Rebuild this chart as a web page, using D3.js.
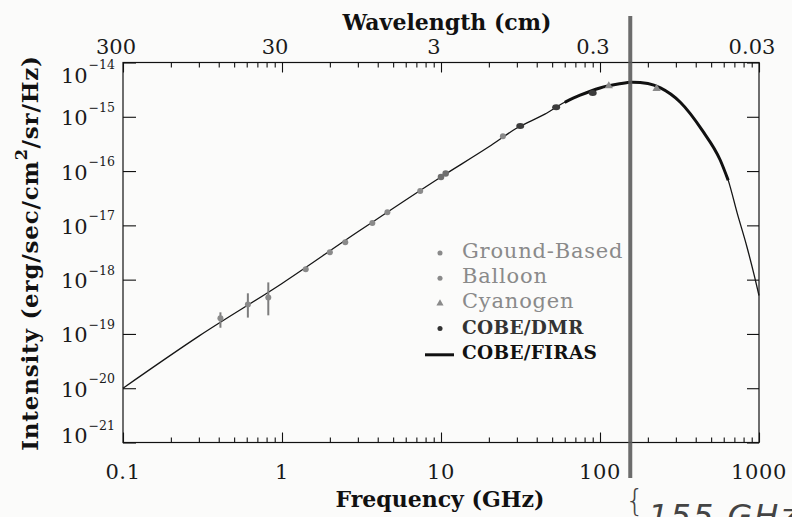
<!DOCTYPE html>
<html>
<head>
<meta charset="utf-8">
<script src="https://cdn.jsdelivr.net/npm/d3@7"></script>
<style>
  html, body { margin: 0; padding: 0; background: #fbfbfa; }
  svg { display: block; font-family: "DejaVu Serif", serif; }
</style>
</head>
<body>
<div id="chart"></div>
<script>
// values: frequency in GHz, intensity in erg/sec/cm^2/sr/Hz
var curveFreq = [0.1, 0.3, 1, 3, 10, 20, 30, 45, 60, 75, 100, 130, 160, 200, 240, 320, 440, 570, 640, 730, 840, 940, 1000];
var curveInt = [1.0e-20, 9.1e-20, 8.5e-19, 7.6e-18, 7.8e-17, 2.8e-16, 6.2e-16, 1.12e-15, 1.85e-15, 2.5e-15, 3.4e-15, 4.0e-15, 4.35e-15, 4.1e-15, 3.4e-15, 1.85e-15, 5.6e-16, 1.6e-16, 6.8e-17, 1.66e-17, 4.0e-18, 1.1e-18, 5.1e-19];
var firasRange = [60, 640];

var groundFreq = [0.41, 0.61, 0.82, 1.41, 2.0, 2.5, 3.7, 4.6, 7.4, 24.5];
var groundInt = [1.95e-19, 3.5e-19, 4.7e-19, 1.55e-18, 3.2e-18, 4.9e-18, 1.1e-17, 1.75e-17, 4.3e-17, 4.4e-16];
var groundLo = [1.3e-19, 2.0e-19, 2.2e-19, null, null, null, null, null, null, null];
var groundHi = [2.5e-19, 5.6e-19, 8.9e-19, null, null, null, null, null, null, null];

var balloonFreq = [10.0, 10.7];
var balloonInt = [7.8e-17, 9.0e-17];

var cyanFreq = [113.6, 227];
var cyanInt = [3.7e-15, 3.3e-15];

var dmrFreq = [31.5, 53, 90];
var dmrInt = [6.8e-16, 1.5e-15, 2.75e-15];

var freqTicks = [0.1, 1, 10, 100, 1000];
var freqLabels = ['0.1', '1', '10', '100', '1000'];
var waveLabels = ['300', '30', '3', '0.3', '0.03'];
var intTicks = [1e-21, 1e-20, 1e-19, 1e-18, 1e-17, 1e-16, 1e-15, 1e-14];
var intExp = ['\u221221', '\u221220', '\u221219', '\u221218', '\u221217', '\u221216', '\u221215', '\u221214'];
var legendNames = ['Ground-Based', 'Balloon', 'Cyanogen', 'COBE/DMR', 'COBE/FIRAS'];
var noteFreq = 155;
var noteText = '155 GHz';

var W = 792, H = 517;
var plotL = 123, plotR = 759, plotT = 62.5, plotB = 442.5;

var svg = d3.select('#chart').append('svg')
    .attr('width', W)
    .attr('height', H);

var x = d3.scaleLog().domain([0.1, 1000]).range([plotL, plotR]);
var y = d3.scaleLog().domain([1e-21, 1e-14]).range([plotB, plotT]);

var minor = x.ticks().filter(function(t) { return freqTicks.indexOf(t) < 0; });

// ticks, all pointing into the frame
function tickAxis(axis, vals, size, tx, ty) {
    var g = svg.append('g')
        .attr('transform', 'translate(' + tx + ',' + ty + ')')
        .call(axis.tickValues(vals).tickSize(size).tickSizeOuter(0).tickFormat(''));
    g.select('.domain').remove();
    g.selectAll('line').attr('stroke', '#111').attr('stroke-width', 1.1);
}
tickAxis(d3.axisBottom(x), freqTicks, -10, 0, plotB);
tickAxis(d3.axisBottom(x), minor, -5, 0, plotB);
tickAxis(d3.axisTop(x), freqTicks, -10, 0, plotT);
tickAxis(d3.axisTop(x), minor, -5, 0, plotT);
tickAxis(d3.axisLeft(y), intTicks, -13, plotL, 0);
tickAxis(d3.axisRight(y), intTicks, -12, plotR, 0);

svg.append('rect')
    .attr('x', plotL).attr('y', plotT)
    .attr('width', plotR - plotL).attr('height', plotB - plotT)
    .attr('fill', 'none').attr('stroke', '#111').attr('stroke-width', 1.2);

// tick labels
svg.selectAll('text.flab').data(freqTicks).enter().append('text')
    .attr('class', 'flab')
    .attr('x', function(d) { return x(d); })
    .attr('y', 479)
    .attr('text-anchor', 'middle')
    .style('font-size', '21px')
    .style('letter-spacing', '0.6px')
    .attr('fill', '#1a1a1a')
    .text(function(d, i) { return freqLabels[i]; });

svg.selectAll('text.wlab').data(freqTicks).enter().append('text')
    .attr('class', 'wlab')
    .attr('x', function(d) { return x(d) - 7; })
    .attr('y', 53.5)
    .attr('text-anchor', 'middle')
    .style('font-size', '21px')
    .attr('fill', '#1a1a1a')
    .text(function(d, i) { return waveLabels[i]; });

var ylab = svg.selectAll('text.ilab').data(intTicks).enter().append('text')
    .attr('class', 'ilab')
    .attr('x', 115)
    .attr('y', function(d, i) {
        if (i == intTicks.length - 1) return y(d) + 20;
        if (i == 0) return y(d) + 0.5;
        return y(d) + 8.5;
    })
    .attr('text-anchor', 'end')
    .attr('fill', '#1a1a1a')
    .style('font-size', '21px');
ylab.append('tspan').text('10');
ylab.append('tspan')
    .attr('dy', -13.5)
    .attr('dx', 1)
    .style('font-size', '12.5px')
    .text(function(d, i) { return intExp[i]; });

// axis titles
svg.append('text')
    .attr('x', 447).attr('y', 30)
    .attr('text-anchor', 'middle')
    .style('font-size', '22px').style('font-weight', 'bold')
    .attr('fill', '#111')
    .text('Wavelength (cm)');

svg.append('text')
    .attr('x', 440).attr('y', 507)
    .attr('text-anchor', 'middle')
    .style('font-size', '22px').style('font-weight', 'bold')
    .attr('fill', '#111')
    .text('Frequency (GHz)');

var yt = svg.append('text')
    .attr('transform', 'translate(38,' + 253 + ') rotate(-90)')
    .attr('text-anchor', 'middle')
    .style('font-size', '23px').style('font-weight', 'bold')
    .style('letter-spacing', '0.8px')
    .attr('fill', '#111');
yt.append('tspan').text('Intensity (erg/sec/cm');
yt.append('tspan').attr('dy', -11).style('font-size', '16px').text('2');
yt.append('tspan').attr('dy', 11).text('/sr/Hz)');

// blackbody curve, thick where FIRAS measured
var curveData = curveFreq.map(function(f, i) { return { f: f, v: curveInt[i] }; });
var line = d3.line()
    .x(function(d) { return x(d.f); })
    .y(function(d) { return y(d.v); })
    .curve(d3.curveMonotoneX);

svg.append('path')
    .datum(curveData)
    .attr('d', line)
    .attr('fill', 'none')
    .attr('stroke', '#151515')
    .attr('stroke-width', 1.3);

svg.append('path')
    .datum(curveData.filter(function(d) { return d.f >= firasRange[0] && d.f <= firasRange[1]; }))
    .attr('d', line)
    .attr('fill', 'none')
    .attr('stroke', '#111')
    .attr('stroke-width', 3);

// measurements
var ground = groundFreq.map(function(f, i) { return { f: f, v: groundInt[i], lo: groundLo[i], hi: groundHi[i] }; });
svg.selectAll('line.err').data(ground.filter(function(d) { return d.lo; })).enter().append('line')
    .attr('class', 'err')
    .attr('x1', function(d) { return x(d.f); })
    .attr('x2', function(d) { return x(d.f); })
    .attr('y1', function(d) { return y(d.lo); })
    .attr('y2', function(d) { return y(d.hi); })
    .attr('stroke', '#7d7d7d')
    .attr('stroke-width', 2);

svg.selectAll('circle.ground').data(ground).enter().append('circle')
    .attr('class', 'ground')
    .attr('cx', function(d) { return x(d.f); })
    .attr('cy', function(d) { return y(d.v); })
    .attr('r', 3)
    .attr('fill', '#8a8a8a');

svg.selectAll('circle.balloon').data(balloonFreq).enter().append('circle')
    .attr('class', 'balloon')
    .attr('cx', function(d) { return x(d); })
    .attr('cy', function(d, i) { return y(balloonInt[i]); })
    .attr('r', 3.3)
    .attr('fill', '#6e6e6e');

var tri = d3.symbol().type(d3.symbolTriangle).size(30);
svg.selectAll('path.cyan').data(cyanFreq).enter().append('path')
    .attr('class', 'cyan')
    .attr('transform', function(d, i) { return 'translate(' + x(d) + ',' + y(cyanInt[i]) + ')'; })
    .attr('d', tri)
    .attr('fill', '#8a8a8a');

svg.selectAll('ellipse.dmr').data(dmrFreq).enter().append('ellipse')
    .attr('class', 'dmr')
    .attr('cx', function(d) { return x(d); })
    .attr('cy', function(d, i) { return y(dmrInt[i]); })
    .attr('rx', 4).attr('ry', 3)
    .attr('fill', '#3c3c3c');

// legend
var legColors = ['#8a8a8a', '#8a8a8a', '#8a8a8a', '#333', '#111'];
var leg = svg.selectAll('g.leg').data(legendNames).enter().append('g')
    .attr('class', 'leg')
    .attr('transform', function(d, i) { return 'translate(440,' + (258 + i * 25.2) + ')'; });
leg.append('text')
    .attr('x', 22)
    .attr('fill', function(d, i) { return legColors[i]; })
    .style('font-size', function(d, i) { return i < 3 ? '21px' : '18.5px'; })
    .style('font-weight', function(d, i) { return i < 3 ? 'normal' : 'bold'; })
    .style('letter-spacing', function(d, i) { return i < 3 ? '0.8px' : '0.3px'; })
    .text(function(d) { return d; });
leg.filter(function(d, i) { return i < 4; }).append('path')
    .attr('transform', 'translate(0,-5)')
    .attr('d', function(d, i) { return d3.symbol().type(i == 2 ? d3.symbolTriangle : d3.symbolCircle).size(i == 2 ? 22 : 20)(); })
    .attr('fill', function(d, i) { return i == 3 ? '#333' : '#8a8a8a'; });
leg.filter(function(d, i) { return i == 4; }).append('line')
    .attr('x1', -15).attr('x2', 14)
    .attr('y1', -4).attr('y2', -4)
    .attr('stroke', '#111').attr('stroke-width', 3);

// pen mark at 155 GHz
svg.append('line')
    .attr('x1', x(noteFreq)).attr('x2', x(noteFreq))
    .attr('y1', 16).attr('y2', 478)
    .attr('stroke', '#5c5c5c')
    .attr('stroke-width', 4)
    .attr('stroke-opacity', 0.9);

svg.append('text')
    .attr('x', x(noteFreq) - 5).attr('y', 511)
    .style('font-family', '"DejaVu Sans", sans-serif')
    .style('font-size', '30px').style('font-weight', 200)
    .attr('fill', '#444')
    .text('{');
svg.append('text')
    .attr('x', x(noteFreq) + 18).attr('y', 527)
    .style('font-family', '"DejaVu Sans", sans-serif')
    .style('font-size', '32px').style('font-style', 'italic').style('font-weight', 200)
    .style('letter-spacing', '2px')
    .attr('fill', '#444')
    .text(noteText);
</script>
</body>
</html>
